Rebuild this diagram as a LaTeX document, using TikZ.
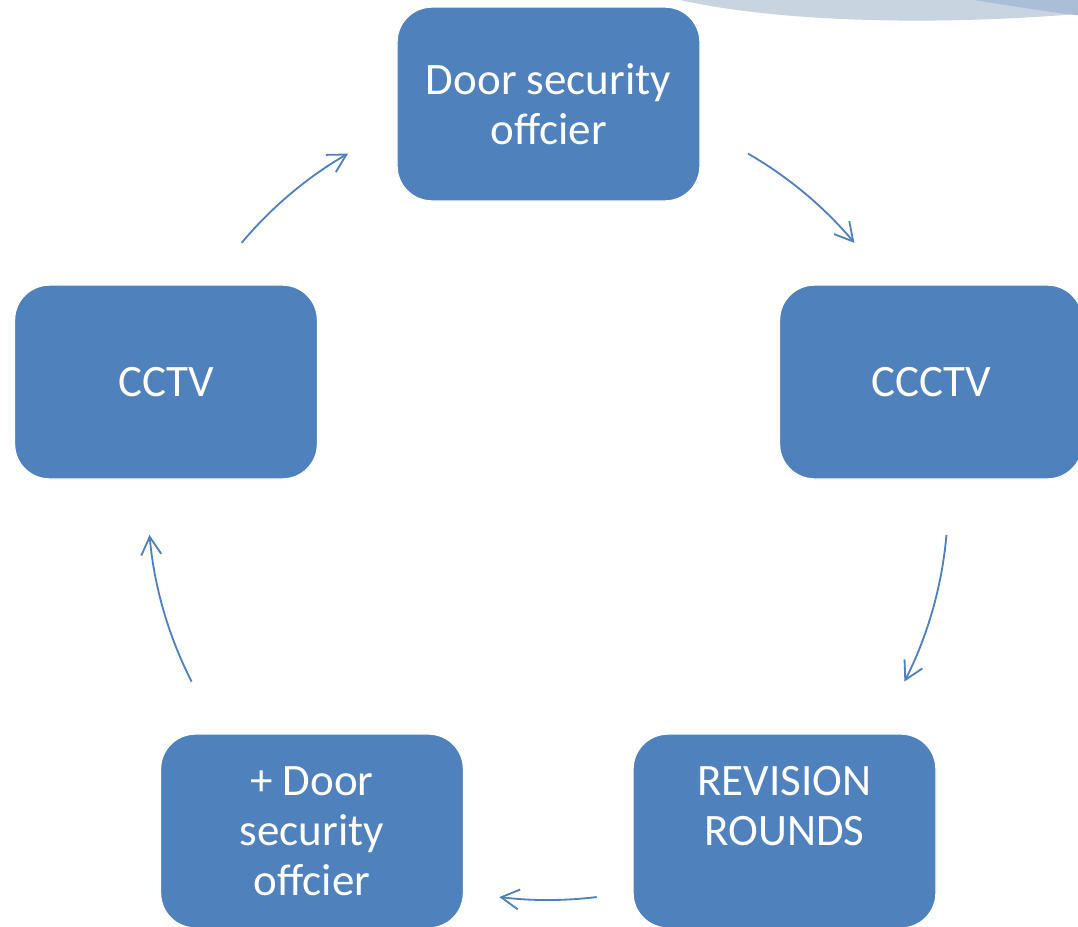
\documentclass[tikz,border=0pt]{standalone}
\usepackage{fontspec}
\setmainfont{Carlito}
\usepackage{tikz}
\usetikzlibrary{arrows.meta}

\definecolor{boxblue}{HTML}{4F81BD}
\definecolor{swooshlight}{HTML}{C8D4DF}
\definecolor{swooshdark}{HTML}{AABED7}

\tikzset{
    stage/.style={rectangle, rounded corners=0.875cm, fill=boxblue, draw=white,
        line width=1pt, text=white, align=center, inner sep=0pt,
        minimum width=7.575cm, minimum height=4.85cm,
        font=\fontsize{32}{35.5}\selectfont},
    flow/.style={boxblue, line width=1.3pt,
        -{Straight Barb[length=4.5mm, width=5mm, line width=1.3pt]}},
}

\begin{document}
\begin{tikzpicture}
    \clip (0,0) rectangle (26.95,-23.175);
    \fill[white] (0,0) rectangle (26.95,-23.175);

    % background swoosh, top right
    \fill[swooshlight]
        (17.0,0) .. controls (19.0,-0.45) and (22.5,-0.7) .. (26.95,-0.35)
        -- (26.95,0) -- cycle;
    \fill[swooshdark]
        (24.35,0) .. controls (25.3,-0.15) and (26.2,-0.3) .. (26.95,-0.38)
        -- (26.95,0) -- cycle;

    \node[stage] (door) at (13.7125,-2.6) {Door security\\offcier};
    \node[stage] (ccctv) at (23.275,-9.55) {CCCTV};
    \node[stage] (revision) at (19.6125,-20.775) {REVISION\\ROUNDS\\~};
    \node[stage] (doorplus) at (7.8,-20.775) {+ Door\\security\\offcier};
    \node[stage] (cctv) at (4.15,-9.55) {CCTV};

    % cycle arrows on one circle
    \coordinate (hub) at (13.7,-12.5);
    \foreach \a/\b in {140/120, 60/40, -5/-27, -83/-97, 207/185}{
        \draw[flow] ([shift={(\a:10)}]hub) arc[start angle=\a, end angle=\b, radius=10];
    }
\end{tikzpicture}
\end{document}
